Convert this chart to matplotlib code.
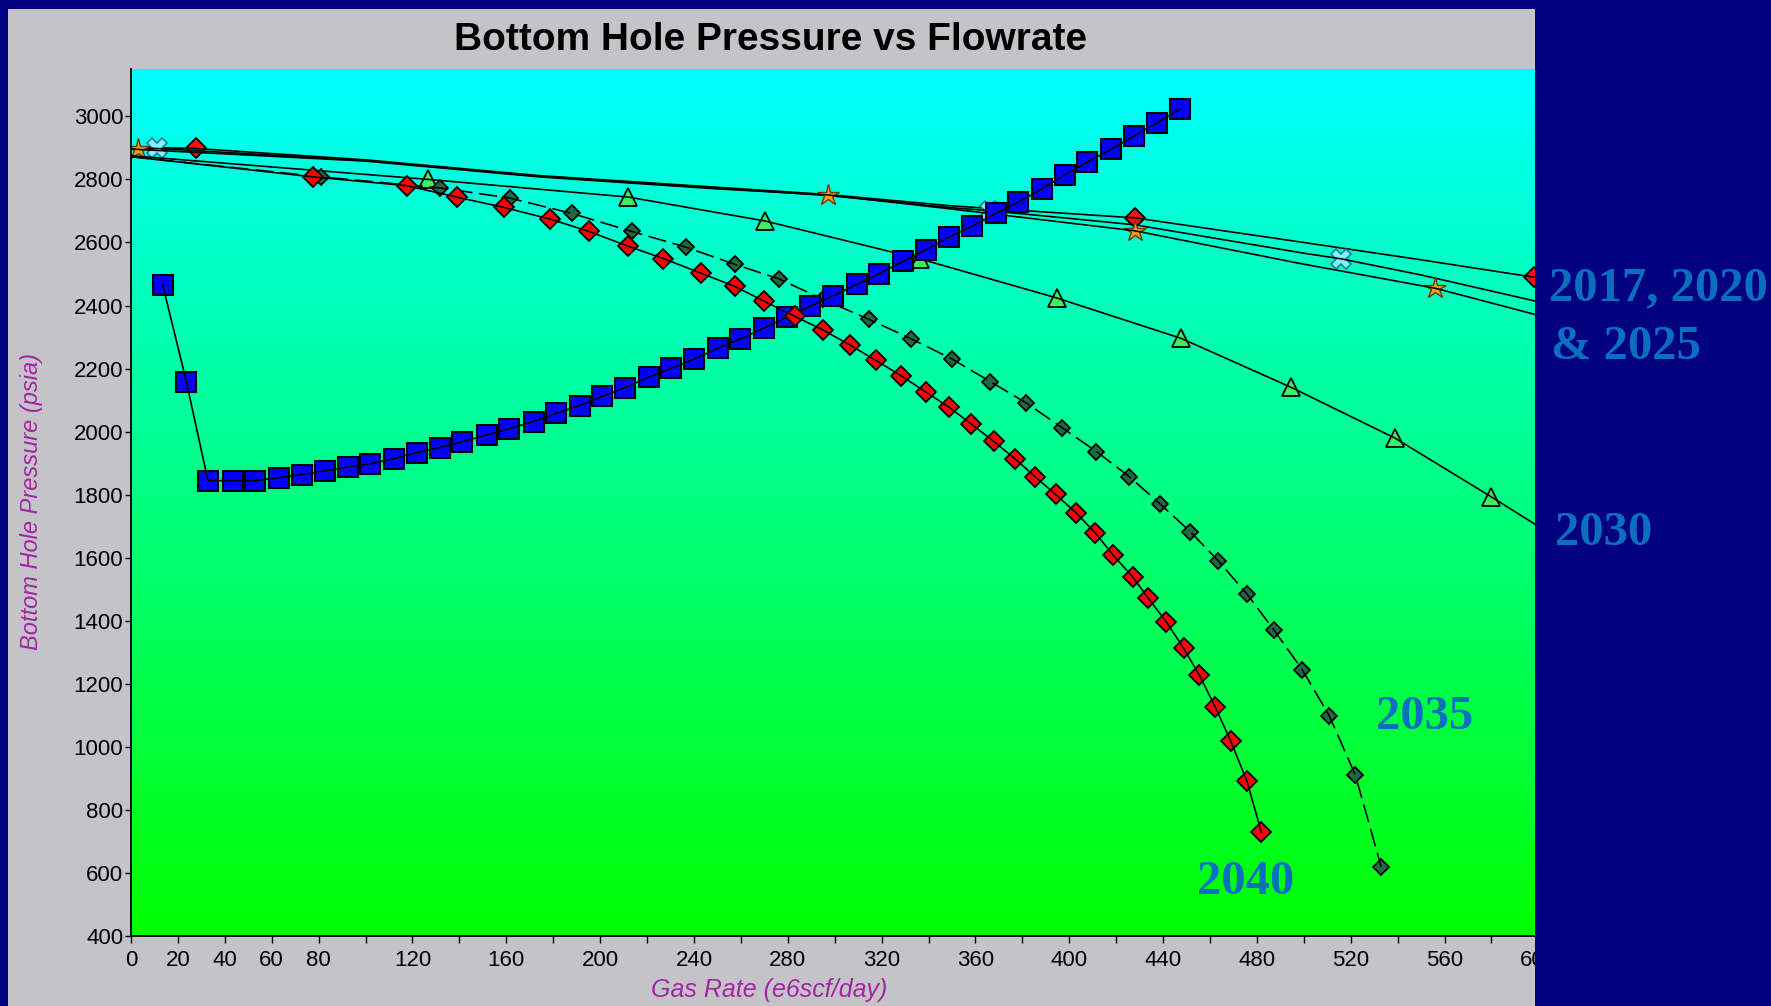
import matplotlib
matplotlib.use('Agg')

import numpy as np
import matplotlib.pyplot as plt
from matplotlib.patches import Rectangle
from matplotlib.colors import LinearSegmentedColormap

# --- data (gas rate e6scf/day, BHP psia) ---
# tubing curve (blue squares)
vlp_q = [13.5, 23.6, 32.8, 43.4, 52.9, 63.1, 72.8, 82.9, 92.5, 101.7,
         112.3, 121.9, 131.6, 141.2, 151.8, 161.0, 171.6, 181.2, 191.3, 201.0,
         210.6, 220.7, 230.4, 240.0, 250.1, 259.8, 269.9, 279.5, 289.6, 299.3,
         309.4, 319.0, 329.2, 338.8, 348.9, 358.6, 368.7, 378.3, 388.4, 398.1,
         407.7, 417.8, 427.5, 437.6, 447.2]
vlp_p = [2466, 2159, 1845, 1845, 1845, 1854, 1864, 1876, 1888, 1898,
         1915, 1934, 1950, 1968, 1990, 2009, 2032, 2058, 2083, 2112,
         2140, 2173, 2201, 2230, 2264, 2294, 2329, 2363, 2398, 2431,
         2467, 2501, 2540, 2577, 2617, 2652, 2692, 2728, 2770, 2814,
         2855, 2895, 2937, 2980, 3023]

# IPR 2017 (red diamonds, sparse)
q2017 = [0, 27.5, 100, 174, 250, 297, 350, 428, 500, 550, 598]
p2017 = [2902, 2898, 2862, 2812, 2775, 2752, 2716, 2678, 2600, 2545, 2490]
mk2017 = [1, 7, 10]
# IPR 2020 (cyan crosses)
q2020 = [0, 11, 100, 174, 250, 297, 350, 366, 428, 500, 516, 550, 600]
p2020 = [2900, 2898, 2860, 2810, 2772, 2749, 2710, 2701, 2656, 2566, 2548, 2497, 2412]
mk2020 = [1, 7, 10]
# IPR 2025 (orange stars)
q2025 = [0, 3, 100, 174, 250, 297, 350, 428, 498, 556, 600]
p2025 = [2897, 2895, 2858, 2808, 2770, 2751, 2706, 2637, 2534, 2455, 2369]
mk2025 = [1, 5, 7, 9]
# IPR 2030 (green triangles)
q2030 = [0, 126.7, 212.0, 270.4, 336.4, 394.7, 447.7, 494.5, 538.8, 579.8, 600]
p2030 = [2875, 2800, 2744, 2668, 2548, 2424, 2296, 2141, 1980, 1794, 1700]
# IPR 2035 (dark green diamonds, dashed)
q2035 = [0, 81.0, 131.6, 161.4, 188.0, 213.5, 236.6, 257.3, 276.1, 294.9,
         314.7, 332.5, 349.9, 366.3, 381.7, 397.1, 411.6, 425.5, 438.6, 451.6,
         463.6, 475.7, 487.2, 499.3, 510.8, 521.9, 533.0]
p2035 = [2872, 2808, 2773, 2741, 2692, 2635, 2585, 2531, 2485, 2420,
         2356, 2295, 2231, 2159, 2091, 2012, 1937, 1858, 1772, 1683,
         1590, 1486, 1372, 1246, 1100, 913, 620]
# IPR 2040 (red diamonds)
q2040 = [0, 77.6, 117.6, 138.8, 159.0, 178.8, 195.2, 212.0, 227.0, 242.9,
         257.3, 269.9, 282.9, 294.9, 306.5, 317.6, 328.2, 338.8, 348.9, 358.1,
         367.7, 376.9, 385.5, 394.2, 402.9, 411.1, 418.8, 427.0, 433.7, 441.4,
         448.7, 455.4, 462.2, 468.9, 475.7, 481.9]
p2040 = [2872, 2808, 2780, 2744, 2711, 2674, 2635, 2588, 2549, 2503,
         2461, 2414, 2366, 2323, 2275, 2226, 2178, 2126, 2077, 2025,
         1970, 1914, 1857, 1801, 1743, 1679, 1608, 1540, 1472, 1397,
         1314, 1229, 1128, 1018, 893, 731]

xtick_vals = list(range(0, 601, 20))
xtick_shown = [0, 20, 40, 60, 80] + list(range(120, 601, 40))
ytick_vals = list(range(400, 3001, 200))

W, H = 1771, 1006
NAVY = '#000080'
GRAY = '#c4c3c7'
ANN = '#0b6fc0'
PURPLE = '#a424a4'
SANS = ['Liberation Sans', 'DejaVu Sans']

fig = plt.figure(figsize=(W / 100, H / 100), dpi=100)
fig.patch.set_facecolor(NAVY)

def fx(px): return px / W
def fy(py): return 1 - py / H

# gray chart panel (cut off on the right like the slide)
fig.add_artist(Rectangle((fx(8), 0), fx(1535 - 8), fy(9), transform=fig.transFigure,
                         facecolor=GRAY, edgecolor='none', zorder=-5))

ax = fig.add_axes([fx(131), fy(936.4), fx(1538.4 - 131), (936.4 - 69) / H])
ax.set_xlim(0, 600)
ax.set_ylim(400, 3150)

# cyan -> green gradient background
grad = np.linspace(0, 1, 256).reshape(-1, 1)
cm = LinearSegmentedColormap.from_list('bg', ['#00ff00', '#00ffff'])
ax.imshow(grad, aspect='auto', cmap=cm, origin='lower',
          extent=[0, 600, 400, 3150], zorder=0)

lw = 1.2
def series(q, p, marker, ms, fc, ec='black', mew=1.3, mk=None, z=2, dashes=None):
    idx = mk if mk is not None else list(range(1, len(q)))
    ax.plot([q[i] for i in idx], [p[i] for i in idx], ls='none', marker=marker,
            ms=ms, mfc=fc, mec=ec, mew=mew, zorder=z)
    line, = ax.plot(q, p, color='black', lw=lw, zorder=z + 0.1)
    if dashes:
        line.set_dashes(dashes)

series(q2017, p2017, 'D', 10, '#ff1010', mk=mk2017, z=2)
series(q2020, p2020, 'X', 14, '#80f4ff', ec='#1a7f95', mew=1.2, mk=mk2020, z=2.2)
series(q2025, p2025, '*', 16, '#ff9a1f', ec='#6a3a00', mew=1.0, mk=mk2025, z=2.4)
series(q2030, p2030, '^', 13, '#3cf060', mk=list(range(1, 10)), z=3)
series(q2035, p2035, 'D', 8, '#1d6a45', z=4, dashes=(11, 4))
ax.plot(vlp_q, vlp_p, ls='none', marker='s', ms=14.5, mfc='#0000ff', mec='black',
        mew=1.5, zorder=5)
ax.plot(vlp_q, vlp_p, color='black', lw=lw, zorder=5.1)
series(q2040, p2040, 'D', 10, '#ff0000', z=6)

# axes styling
for s in ['top', 'right']:
    ax.spines[s].set_visible(False)
for s in ['left', 'bottom']:
    ax.spines[s].set_color('black')
    ax.spines[s].set_linewidth(1.3)
    ax.spines[s].set_zorder(7)

ax.set_xticks(xtick_vals)
ax.set_xticklabels([str(v) if v in xtick_shown else '' for v in xtick_vals])
ax.set_yticks(ytick_vals)
ax.tick_params(axis='x', direction='out', length=5, width=1, pad=5, labelsize=16)
ax.tick_params(axis='y', direction='out', length=4, width=1, pad=1.5, labelsize=16)
for lab in ax.get_xticklabels() + ax.get_yticklabels():
    lab.set_fontfamily(SANS)

fig.text(fx(771), fy(40), 'Bottom Hole Pressure vs Flowrate', ha='center', va='center',
         fontsize=28, fontweight='bold', family=SANS)
fig.text(fx(769), fy(990), 'Gas Rate (e6scf/day)', ha='center', va='center',
         fontsize=18, style='italic', color=PURPLE, family=SANS)
fig.text(fx(32), fy(501), 'Bottom Hole Pressure (psia)', ha='center', va='center',
         rotation=90, fontsize=17, style='italic', color=PURPLE, family=SANS)

# slide background covering the right part of the chart
fig.add_artist(Rectangle((fx(1535), 0), 1, 1, transform=fig.transFigure,
                         facecolor=NAVY, edgecolor='none', zorder=10))

af = ['Liberation Serif', 'DejaVu Serif']
for txt, x, y in [('2017, 2020', 1549, 288), ('& 2025', 1551, 347), ('2030', 1555, 533),
                  ('2035', 1376, 717), ('2040', 1197, 882)]:
    fig.text(fx(x), fy(y), txt, ha='left', va='center', fontsize=35,
             fontweight='bold', color=ANN, family=af, zorder=11)

fig.savefig('out.png', dpi=100, facecolor=fig.get_facecolor())
